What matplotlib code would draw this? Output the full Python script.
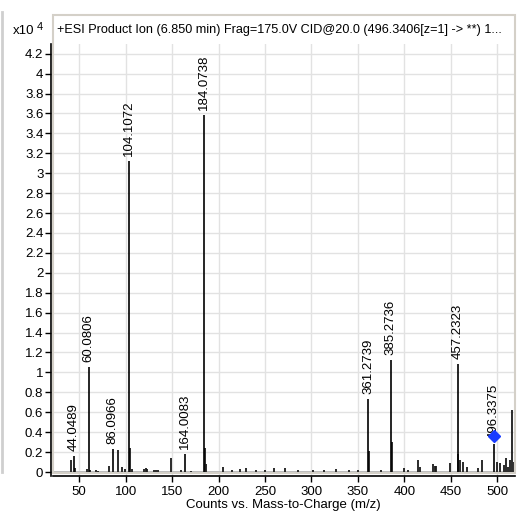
import matplotlib
matplotlib.use("Agg")
import matplotlib.pyplot as plt
from matplotlib.patches import Rectangle
from matplotlib.lines import Line2D

plt.rcParams['font.family'] = ['Liberation Sans', 'DejaVu Sans']

# labelled peaks (m/z, intensity x1e4)
label_mz = [44.0489, 60.0806, 86.0966, 104.1072, 164.0083, 184.0738,
            361.2739, 385.2736, 457.2323, 496.3375]
label_int = [0.16, 1.05, 0.23, 3.12, 0.18, 3.58, 0.73, 1.12, 1.08, 0.28]
label_txt = ["44.0489", "60.0806", "86.0966", "104.1072", "164.0083", "184.0738",
             "361.2739", "385.2736", "457.2323", "496.3375"]

# unlabelled peaks
minor_mz = [40.7, 46.0, 58.0, 62.0, 68.0, 70.0, 82.0, 91.5, 96.0, 99.0, 105.2, 107.0,
            120.0, 121.5, 123.0, 130.0, 133.0, 135.0, 149.0, 160.0, 170.0, 185.2, 186.2,
            205.0, 215.0, 223.0, 229.0, 240.0, 250.0, 260.0, 272.0, 285.0, 302.0, 313.0,
            326.5, 340.0, 350.0, 362.3, 375.0, 386.3, 400.0, 404.0, 415.0, 417.0, 431.0,
            433.0, 434.5, 449.0, 458.2, 459.5, 463.0, 467.5, 479.0, 483.0, 500.0, 503.0,
            507.0, 509.0, 512.0, 514.0, 515.8, 517.5]
minor_int = [0.12, 0.04, 0.03, 0.02, 0.02, 0.01, 0.06, 0.22, 0.05, 0.03, 0.24, 0.03,
             0.03, 0.04, 0.03, 0.02, 0.02, 0.02, 0.14, 0.02, 0.01, 0.24, 0.08,
             0.05, 0.02, 0.03, 0.04, 0.02, 0.02, 0.04, 0.04, 0.02, 0.02, 0.02,
             0.03, 0.02, 0.02, 0.21, 0.02, 0.30, 0.04, 0.02, 0.12, 0.05, 0.08,
             0.06, 0.06, 0.09, 0.18, 0.12, 0.10, 0.05, 0.04, 0.12, 0.10, 0.09,
             0.07, 0.14, 0.05, 0.12, 0.62, 0.10]

precursor_mz = 496.3406
precursor_int = 0.365

y_ticks = [0, 0.2, 0.4, 0.6, 0.8, 1, 1.2, 1.4, 1.6, 1.8, 2, 2.2, 2.4, 2.6, 2.8, 3,
           3.2, 3.4, 3.6, 3.8, 4, 4.2]
y_ticklabels = ["0", "0.2", "0.4", "0.6", "0.8", "1", "1.2", "1.4", "1.6", "1.8", "2",
                "2.2", "2.4", "2.6", "2.8", "3", "3.2", "3.4", "3.6", "3.8", "4", "4.2"]
x_ticks = [50, 100, 150, 200, 250, 300, 350, 400, 450, 500]

title = "+ESI Product Ion (6.850 min) Frag=175.0V CID@20.0 (496.3406[z=1] -> **) 1..."
xlabel = "Counts vs. Mass-to-Charge (m/z)"

W, H = 518, 511
fig = plt.figure(figsize=(W / 100, H / 100), dpi=100)
ax = fig.add_axes([51 / W, 1 - 476 / H, (515 - 51) / W, (476 - 44) / H])
ax.set_xlim(19.7, 519)
ax.set_ylim(-0.04, 4.297)

ax.set_yticks(y_ticks)
ax.set_yticklabels(y_ticklabels)
ax.set_xticks(x_ticks)
ax.grid(True, color='#e2e2e2', linewidth=1.0, zorder=0)
ax.set_axisbelow(True)

# baseline noise band
ax.axhspan(0, 0.014, color='#bdbdbd', zorder=1, linewidth=0)

ax.vlines(minor_mz, 0, minor_int, colors='#1a1a1a', linewidth=1.3, zorder=2)
ax.vlines(label_mz, 0, label_int, colors='black', linewidth=1.2, zorder=3)

for mz, it, t in zip(label_mz, label_int, label_txt):
    ax.annotate(t, xy=(mz, it), xytext=(0, 4), textcoords='offset points',
                rotation=90, ha='center', va='bottom', fontsize=9.5, color='black',
                zorder=4)

ax.plot([precursor_mz], [precursor_int], marker='D', color='#1a3cff', markersize=6,
        markeredgecolor='#1a3cff', zorder=5, clip_on=False)

for s in ['top', 'right']:
    ax.spines[s].set_visible(False)
ax.spines['left'].set_color('black')
ax.spines['bottom'].set_color('black')
ax.spines['left'].set_linewidth(1.2)
ax.spines['bottom'].set_linewidth(1.2)
ax.spines['bottom'].set_bounds(21.8, 519)
ax.tick_params(axis='both', direction='out', length=4, width=1, labelsize=9.5,
               color='black', pad=1.5)
ax.tick_params(axis='x', pad=3)
ax.set_xlabel(xlabel, fontsize=9.5, labelpad=1)

# title box
fig.patches.append(Rectangle((52.5 / W, 1 - 473 / H), (515 - 52.5) / W, (473 - 15.5) / H,
                             transform=fig.transFigure, fill=False,
                             edgecolor='#d4d0c8', linewidth=1.5, zorder=0))
fig.text(57 / W, 1 - 30 / H, title, fontsize=9.1, ha='left', va='center')
fig.text(13 / W, 1 - 31 / H, "x10", fontsize=9.5, ha='left', va='center')
fig.text(37 / W, 1 - 27 / H, "4", fontsize=8, ha='left', va='center')

# left panel edge
fig.lines.append(Line2D([1.5 / W, 1.5 / W], [1 - 12 / H, 1 - 472 / H],
                        transform=fig.transFigure, color='#cfcfcf', linewidth=2))

fig.savefig("out.png", dpi=100)
